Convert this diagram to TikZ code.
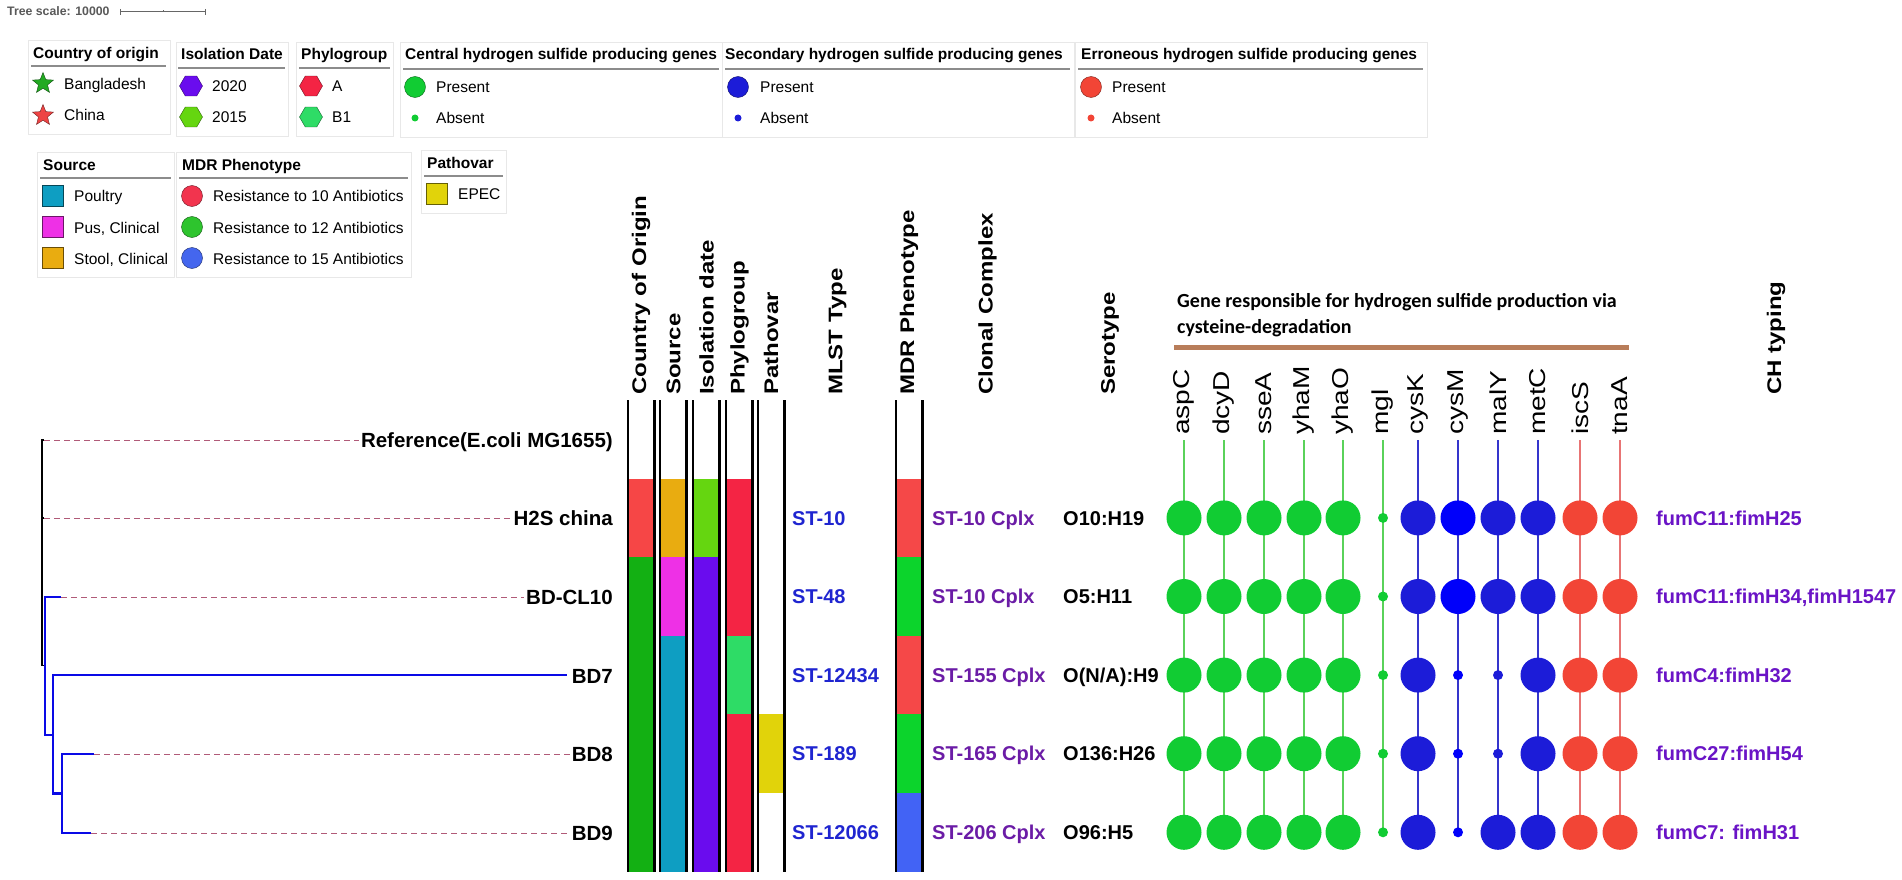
\documentclass[tikz,border=0pt]{standalone}
\usepackage{fontspec}
\usepackage{graphicx}
\setmainfont{Liberation Sans}
\newfontfamily\calfont{Carlito}
\usetikzlibrary{shapes.geometric}

\definecolor{chinared}{HTML}{F64646}
\definecolor{bdgreen}{HTML}{13B013}
\definecolor{starg}{HTML}{22AA22}
\definecolor{starr}{HTML}{EE4444}
\definecolor{stool}{HTML}{E9AC10}
\definecolor{pus}{HTML}{EE30E6}
\definecolor{poultry}{HTML}{0E9EC2}
\definecolor{yrold}{HTML}{65D610}
\definecolor{yrnew}{HTML}{6A0CEE}
\definecolor{phyA}{HTML}{F42444}
\definecolor{phyB}{HTML}{2EDC66}
\definecolor{epec}{HTML}{E1D30A}
\definecolor{mdrred}{HTML}{F54848}
\definecolor{mdrgreen}{HTML}{0CD42C}
\definecolor{mdrblue}{HTML}{4263F5}
\definecolor{lgmdrred}{HTML}{F2344E}
\definecolor{lgmdrgreen}{HTML}{2EC42E}
\definecolor{lgmdrblue}{HTML}{4466EE}
\definecolor{cgreen}{HTML}{11CC33}
\definecolor{cblue}{HTML}{1C1CD8}
\definecolor{cbright}{HTML}{0000FA}
\definecolor{cred}{HTML}{F24536}
\definecolor{lgreen}{HTML}{5AD25A}
\definecolor{lblue}{HTML}{3535CC}
\definecolor{lred}{HTML}{E87474}
\definecolor{stblue}{HTML}{1F25D0}
\definecolor{cplx}{HTML}{6B1CA6}
\definecolor{chpurple}{HTML}{6A14C6}
\definecolor{leadcol}{HTML}{B05A78}
\definecolor{treeblue}{HTML}{0A0AE6}
\definecolor{barcol}{HTML}{B87D5A}

\newcommand{\hstr}[1]{\scalebox{1.22}[1]{#1}}

\begin{document}
\begin{tikzpicture}[x=1pt, y=-1pt,
  lgbox/.style={draw=black!9, line width=0.8pt},
  lgrule/.style={draw=black!45, line width=1.5pt},
  lgtitle/.style={anchor=base west, inner sep=0pt, font=\fontsize{15.5}{18}\selectfont\bfseries},
  lgtext/.style={anchor=base west, inner sep=0pt, font=\fontsize{15.5}{18}\selectfont},
  lgdot/.style={circle, inner sep=0pt, minimum size=#1},
  lgsq/.style={rectangle, inner sep=0pt, minimum size=21pt},
  lghex/.style={regular polygon, regular polygon sides=6, inner sep=0pt, minimum size=23pt},
  lgstar/.style={star, star points=5, star point ratio=2.3, inner sep=0pt, minimum size=22pt},
  colhead/.style={rotate=90, anchor=west, inner sep=0pt, font=\fontsize{19.7}{22}\selectfont\bfseries},
  genehead/.style={rotate=90, anchor=west, inner sep=0pt, font=\fontsize{23}{26}\selectfont},
  leaf/.style={anchor=base east, inner xsep=2pt, inner ysep=0pt, font=\fontsize{20.5}{24}\selectfont\bfseries},
  cell/.style={anchor=base west, inner sep=0pt, font=\fontsize{20}{24}\selectfont\bfseries},
  leader/.style={draw=leadcol, dash pattern=on 6pt off 4pt, line width=1pt},
  tblack/.style={draw=black, line width=1.5pt},
  tblue/.style={draw=treeblue, line width=2.6pt},
]
\useasboundingbox (0,0) rectangle (1902,880);

\node[anchor=base west, inner sep=0pt, text=black!65, font=\fontsize{12.3}{14}\selectfont\bfseries] (tscale) at (7,16) {Tree scale: 10000};
\draw[black!60, line width=1pt] (120,9) -- (120,15) (120,12) -- (205,12) (205,9) -- (205,15) (163,12) -- (163,10);

% legends, first row
\draw[lgbox] (28,40) rectangle (170,134);
\node[lgtitle] (tcountry) at (33,58.5) {Country of origin};
\draw[lgrule] (31,66) -- (166,66);
\node[lgstar, fill=starg, draw=black!55!starg] (sbd) at (43,83.5) {};
\node[lgtext] (lbd) at (64,89.5) {Bangladesh};
\node[lgstar, fill=starr, draw=black!55!starr] (scn) at (43,115.5) {};
\node[lgtext] (lcn) at (64,121) {China};

\draw[lgbox] (176,42) rectangle (288,136);
\node[lgtitle] (tiso) at (181,60) {Isolation Date};
\draw[lgrule] (178,68) -- (285,68);
\node[lghex, fill=yrnew, draw=black!55!yrnew] (hnew) at (191,86) {};
\node[lgtext] (lnew) at (212,91.5) {2020};
\node[lghex, fill=yrold, draw=black!55!yrold] (hold) at (191,117) {};
\node[lgtext] (lold) at (212,122.7) {2015};

\draw[lgbox] (296,42) rectangle (393,136);
\node[lgtitle] (tphy) at (301,60) {Phylogroup};
\draw[lgrule] (299,68) -- (390,68);
\node[lghex, fill=phyA, draw=black!55!phyA] (ha) at (311,86) {};
\node[lgtext] (la) at (332,91.5) {A};
\node[lghex, fill=phyB, draw=black!55!phyB] (hb) at (311,117) {};
\node[lgtext] (lb) at (332,122.7) {B1};

\draw[lgbox] (400,42) rectangle (722,137);
\node[lgtitle] (tcen) at (405,60) {Central hydrogen sulfide producing genes};
\draw[lgrule] (403,69) -- (719,69);
\node[lgdot=21pt, fill=cgreen, draw=black!50!cgreen] (cenp) at (415,87) {};
\node[lgtext] (lcenp) at (436,92.5) {Present};
\node[lgdot=7pt, fill=cgreen] (cena) at (415,118) {};
\node[lgtext] (lcena) at (436,124) {Absent};

\draw[lgbox] (722,42) rectangle (1074,137);
\node[lgtitle] (tsec) at (725,60) {Secondary hydrogen sulfide producing genes};
\draw[lgrule] (725,69) -- (1070,69);
\node[lgdot=21pt, fill=cblue, draw=black!50!cblue] (secp) at (738,87) {};
\node[lgtext] (lsecp) at (760,92.5) {Present};
\node[lgdot=7pt, fill=cblue] (seca) at (738,118) {};
\node[lgtext] (lseca) at (760,124) {Absent};

\draw[lgbox] (1075,42) rectangle (1427,137);
\node[lgtitle] (terr) at (1081,60) {Erroneous hydrogen sulfide producing genes};
\draw[lgrule] (1078,69) -- (1423,69);
\node[lgdot=21pt, fill=cred, draw=black!50!cred] (errp) at (1091,87) {};
\node[lgtext] (lerrp) at (1112,92.5) {Present};
\node[lgdot=7pt, fill=cred] (erra) at (1091,118) {};
\node[lgtext] (lerra) at (1112,124) {Absent};

% legends, second row
\draw[lgbox] (37,152) rectangle (174,277);
\node[lgtitle] (tsrc) at (43,170) {Source};
\draw[lgrule] (40,178) -- (171,178);
\node[lgsq, fill=poultry, draw=black!55!poultry] (qpo) at (52.5,196) {};
\node[lgtext] (lpo) at (74,201.7) {Poultry};
\node[lgsq, fill=pus, draw=black!55!pus] (qpu) at (52.5,227) {};
\node[lgtext] (lpu) at (74,233.3) {Pus, Clinical};
\node[lgsq, fill=stool, draw=black!55!stool] (qst) at (52.5,258) {};
\node[lgtext] (lst) at (74,264.3) {Stool, Clinical};

\draw[lgbox] (176,152) rectangle (411,277);
\node[lgtitle] (tmdr) at (182,170) {MDR Phenotype};
\draw[lgrule] (179,178) -- (408,178);
\node[lgdot=21pt, fill=lgmdrred, draw=black!55!lgmdrred] (mten) at (192,196) {};
\node[lgtext] (lten) at (213,201.7) {Resistance to 10 Antibiotics};
\node[lgdot=21pt, fill=lgmdrgreen, draw=black!55!lgmdrgreen] (mtwelve) at (192,227) {};
\node[lgtext] (ltwelve) at (213,233.3) {Resistance to 12 Antibiotics};
\node[lgdot=21pt, fill=lgmdrblue, draw=black!55!lgmdrblue] (mfifteen) at (192,258) {};
\node[lgtext] (lfifteen) at (213,264.3) {Resistance to 15 Antibiotics};

\draw[lgbox] (421,150) rectangle (506,213);
\node[lgtitle] (tpath) at (427,168.3) {Pathovar};
\draw[lgrule] (424,176) -- (503,176);
\node[lgsq, fill=epec, draw=black!55!epec] (qep) at (436.5,194) {};
\node[lgtext] (lep) at (458,199.3) {EPEC};

% tree
\node[leaf] (ref) at (615,447.5) {Reference(E.coli MG1655)};
\node[leaf] (h2s) at (615,525.5) {H2S china};
\node[leaf] (cl10) at (615,604.5) {BD-CL10};
\node[leaf] (bd7) at (615,683) {BD7};
\node[leaf] (bd8) at (615,761.5) {BD8};
\node[leaf] (bd9) at (615,840.5) {BD9};

\coordinate (tipref) at (44,440);
\coordinate (tiph2s) at (44,518);
\coordinate (tipcl) at (61,597);
\coordinate (tip7) at (567,675);
\coordinate (tip8) at (94,754);
\coordinate (tip9) at (91,833);
\coordinate (nblue) at (45,665.5);
\coordinate (nd) at (53,735);
\coordinate (ne) at (62,793.5);

\draw[tblack] (tipref) -- (42,440) |- (nblue);
\draw[tblack] (tiph2s) -- (42,518);
\draw[tblue] (tipcl) -| (nblue) |- (nd);
\draw[tblue] (nd) |- (tip7);
\draw[tblue] (nd) |- (ne) |- (tip8);
\draw[tblue] (ne) |- (tip9);

\draw[leader] (tipref) -- (tipref -| ref.west);
\draw[leader] (tiph2s) -- (tiph2s -| h2s.west);
\draw[leader] (tipcl) -- (tipcl -| cl10.west);
\draw[leader] (tip8) -- (tip8 -| bd8.west);
\draw[leader] (tip9) -- (tip9 -| bd9.west);

% colour strips
\foreach \sx/\sc in {628/{chinared,bdgreen,bdgreen,bdgreen,bdgreen},
                     660/{stool,pus,poultry,poultry,poultry},
                     693/{yrold,yrnew,yrnew,yrnew,yrnew},
                     726/{phyA,phyA,phyB,phyA,phyA},
                     758/{white,white,white,epec,white},
                     896/{mdrred,mdrgreen,mdrred,mdrgreen,mdrblue}}{
  \foreach \c [count=\r] in \sc
    \fill[\c] (\sx,{400+78.6*\r}) rectangle ++(26.5,78.6);
  \draw[line width=2.2pt] (\sx,400) -- (\sx,872) (\sx+26.5,400) -- (\sx+26.5,872);
}

\node[colhead] (hcountry) at (641,395) {\hstr{Country of Origin}};
\node[colhead] (hsource) at (673.5,395) {\hstr{Source}};
\node[colhead] (hdate) at (706.5,395) {\hstr{Isolation date}};
\node[colhead] (hphylo) at (739.5,395) {\hstr{Phylogroup}};
\node[colhead] (hpath) at (771,395) {\hstr{Pathovar}};
\node[colhead] (hmlst) at (837.5,395) {\hstr{MLST Type}};
\node[colhead] (hmdr) at (909,395) {\hstr{MDR Phenotype}};
\node[colhead] (hcplx) at (987.5,395) {\hstr{Clonal Complex}};
\node[colhead] (hsero) at (1110,395) {\hstr{Serotype}};
\node[colhead] (hch) at (1776,395) {\hstr{CH typing}};

\foreach \st/\cx/\se/\ch [count=\r] in {ST-10/ST-10 Cplx/O10:H19/fumC11:fimH25,
    ST-48/ST-10 Cplx/O5:H11/{fumC11:fimH34,fimH1547},
    ST-12434/ST-155 Cplx/{O(N/A):H9}/fumC4:fimH32,
    ST-189/ST-165 Cplx/O136:H26/fumC27:fimH54,
    ST-12066/ST-206 Cplx/O96:H5/fumC7: fimH31}{
  \node[cell, text=stblue] (mlst\r) at (792,{400+78.6*(\r+0.5)+7.2}) {\st};
  \node[cell, text=cplx] (cplx\r) at (932,{400+78.6*(\r+0.5)+7.2}) {\cx};
  \node[cell] (sero\r) at (1063,{400+78.6*(\r+0.5)+7.2}) {\se};
  \node[cell, text=chpurple] (ch\r) at (1656,{400+78.6*(\r+0.5)+7.2}) {\ch};
}

% genes
\node[anchor=base west, inner sep=0pt, font=\calfont\bfseries\fontsize{20}{24}\selectfont] (gtitle) at (1177,307) {Gene responsible for hydrogen sulfide production via};
\node[anchor=base west, inner sep=0pt, font=\calfont\bfseries\fontsize{20}{24}\selectfont] (gtitleb) at (1177,333) {cysteine-degradation};
\draw[barcol, line width=5pt] (1174,347) -- (1629,347);

\foreach \gx/\gname/\gline/\gfill/\gp in {
    1184/aspC/lgreen/cgreen/{1,1,1,1,1},
    1224/dcyD/lgreen/cgreen/{1,1,1,1,1},
    1264/sseA/lgreen/cgreen/{1,1,1,1,1},
    1304/yhaM/lgreen/cgreen/{1,1,1,1,1},
    1343/yhaO/lgreen/cgreen/{1,1,1,1,1},
    1383/mgl/lgreen/cgreen/{0,0,0,0,0},
    1418/cysK/lblue/cblue/{1,1,1,1,1},
    1458/cysM/lblue/cbright/{1,1,0,0,0},
    1498/malY/lblue/cblue/{1,1,0,0,1},
    1538/metC/lblue/cblue/{1,1,1,1,1},
    1580/iscS/lred/cred/{1,1,1,1,1},
    1620/tnaA/lred/cred/{1,1,1,1,1}}{
  \node[genehead] (g\gname) at (\gx,435) {\hstr{\gname}};
  \draw[\gline, line width=1.5pt] (\gx,440) -- (\gx,832);
  \foreach \p [count=\r] in \gp
    \fill[\gfill] (\gx,{400+78.6*(\r+0.5)}) circle[radius={5+12.5*\p}];
}
\end{tikzpicture}
\end{document}
